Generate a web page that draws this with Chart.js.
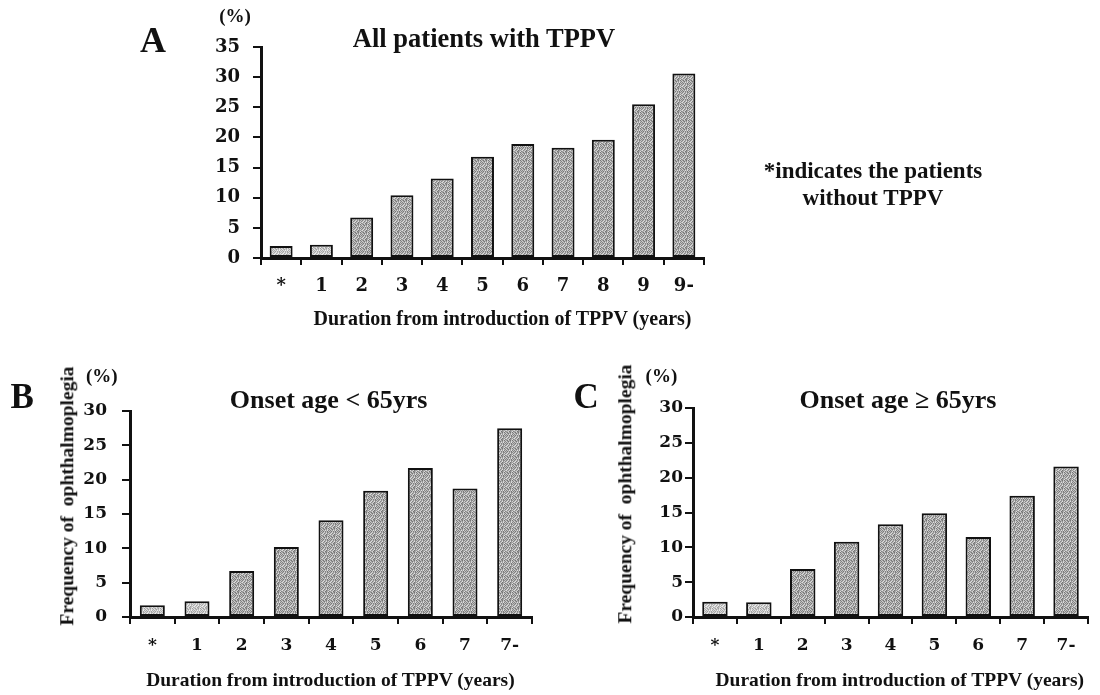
<!DOCTYPE html>
<html>
<head>
<meta charset="utf-8">
<script src="https://cdn.jsdelivr.net/npm/chart.js@4.4.1/dist/chart.umd.min.js"></script>
<style>
  html, body { margin: 0; padding: 0; background: #fff; }
  #page { position: relative; width: 1100px; height: 695px; overflow: hidden; background: #fff;
          font-family: "Liberation Serif", "Times New Roman", serif; font-weight: bold; color: #111; }
  #page canvas { position: absolute; left: 0; top: 0; }
  .t { position: absolute; white-space: pre; line-height: 1; }
</style>
</head>
<body>
<div id="page">
  <canvas id="chartA" width="1100" height="695"></canvas>
  <canvas id="chartB" width="1100" height="695"></canvas>
  <canvas id="chartC" width="1100" height="695"></canvas>
</div>
<script>
// Frequency of ophthalmoplegia (%) by duration since introduction of TPPV
const labelsA = ['*', '1', '2', '3', '4', '5', '6', '7', '8', '9', '9-'];
const valuesA = [2.0, 2.2, 6.7, 10.4, 13.2, 16.8, 18.9, 18.3, 19.6, 25.5, 30.6];

const labelsBC = ['*', '1', '2', '3', '4', '5', '6', '7', '7-'];
const valuesB = [1.7, 2.3, 6.7, 10.2, 14.1, 18.4, 21.7, 18.7, 27.5];   // onset age < 65
const valuesC = [2.2, 2.1, 6.9, 10.8, 13.3, 14.9, 11.5, 17.4, 21.6];   // onset age >= 65

const yTicksA = { max: 35, step: 5 };
const yTicksBC = { max: 30, step: 5 };

// speckled grey fill, like a halftone print
function speckle(mean, spread) {
  const n = 8;
  const c = document.createElement('canvas');
  c.width = n; c.height = n;
  const g = c.getContext('2d');
  for (let j = 0; j < n; j++) {
    for (let i = 0; i < n; i++) {
      const k = (i * 53 + j * 97 + i * j * 31 + (i ^ j) * 7) % 9 - 4;
      const v = Math.max(0, Math.min(255, Math.round(mean + k * spread)));
      g.fillStyle = 'rgb(' + v + ',' + v + ',' + v + ')';
      g.fillRect(i, j, 1, 1);
    }
  }
  return g.createPattern(c, 'repeat');
}
const midFill = speckle(170, 13);
const lightFill = speckle(200, 10);

function buildChart(id, labels, values, yInfo, area, opts) {
  const Y_W = 80, X_H = 60;
  const tickFont = { family: "'DejaVu Serif'", weight: 'bold', size: opts.tickSize };
  return new Chart(document.getElementById(id), {
    type: 'bar',
    data: {
      labels: labels,
      datasets: [{
        data: values,
        backgroundColor: (ctx) => ctx.dataIndex < 2 ? lightFill : midFill,
        borderColor: '#111',
        borderWidth: 2,
        borderSkipped: false,
        categoryPercentage: 1,
        barPercentage: opts.barPct
      }]
    },
    options: {
      responsive: false,
      animation: false,
      events: [],
      layout: {
        padding: {
          left: area.left - Y_W,
          right: 1100 - area.right,
          top: area.top,
          bottom: 695 - area.bottom - X_H
        }
      },
      plugins: { legend: { display: false }, tooltip: { enabled: false }, title: { display: false } },
      scales: {
        x: {
          type: 'category',
          offset: true,
          grid: { offset: true, drawOnChartArea: false, drawTicks: true, tickLength: 7, lineWidth: 2, color: '#111' },
          border: { display: true, color: '#111', width: 3 },
          ticks: { font: tickFont, color: '#111', padding: opts.xPad, maxRotation: 0, autoSkip: false },
          afterFit: (s) => { s.height = X_H; }
        },
        y: {
          min: 0,
          max: yInfo.max,
          grid: { drawOnChartArea: false, drawTicks: true, tickLength: 8, lineWidth: 2, color: '#111' },
          border: { display: true, color: '#111', width: 3 },
          ticks: { stepSize: yInfo.step, font: tickFont, color: '#111', padding: opts.yPad },
          afterFit: (s) => { s.width = Y_W; }
        }
      }
    }
  });
}

buildChart('chartA', labelsA, valuesA, yTicksA, { left: 261, right: 704, top: 47, bottom: 258 },
           { tickSize: 18, yPad: 13, xPad: 11, barPct: 0.57 });
buildChart('chartB', labelsBC, valuesB, yTicksBC, { left: 130, right: 532, top: 411, bottom: 617 },
           { tickSize: 17, yPad: 15, xPad: 11, barPct: 0.56 });
buildChart('chartC', labelsBC, valuesC, yTicksBC, { left: 693, right: 1088, top: 408, bottom: 617 },
           { tickSize: 17, yPad: 2, xPad: 11, barPct: 0.58 });

// Titles, panel letters and notes as page text
const page = document.getElementById('page');
const BASE = 0.8375; // baseline offset within a line-height:1 box
function put(text, x, baseline, size, align) {
  const d = document.createElement('div');
  d.className = 't';
  d.textContent = text;
  d.style.fontSize = size + 'px';
  d.style.top = (baseline - BASE * size) + 'px';
  d.style.left = x + 'px';
  if (align === 'center') d.style.transform = 'translateX(-50%)';
  page.appendChild(d);
  return d;
}
function putVertical(text, cx, cy, size) {
  const d = document.createElement('div');
  d.className = 't';
  d.textContent = text;
  d.style.fontSize = size + 'px';
  d.style.left = cx + 'px';
  d.style.top = cy + 'px';
  d.style.transform = 'translate(-50%, -50%) rotate(-90deg)';
  page.appendChild(d);
}

// panel A
put('A', 140, 52.3, 36, 'left');
put('(%)', 235, 21.8, 19, 'center');
put('All patients with TPPV', 484, 46.7, 26.5, 'center');
put('*indicates the patients', 873, 178.3, 23, 'center');
put('without TPPV', 873, 205.7, 23, 'center');
put('Duration from introduction of TPPV (years)', 502.5, 325, 20, 'center');

// panel B
put('B', 10.5, 408, 35, 'left');
put('(%)', 101.8, 382.3, 19, 'center');
put('Onset age < 65yrs', 328.6, 408.3, 26, 'center');
putVertical('Frequency of  ophthalmoplegia', 66.7, 495.5, 19.5);
put('Duration from introduction of TPPV (years)', 330.4, 686.7, 19.5, 'center');

// panel C
put('C', 573.5, 408, 35, 'left');
put('(%)', 661.4, 382.3, 19, 'center');
put('Onset age \u2265 65yrs', 898, 408.3, 26, 'center');
putVertical('Frequency of  ophthalmoplegia', 624.6, 494, 19.5);
put('Duration from introduction of TPPV (years)', 899.8, 686.7, 19.5, 'center');
</script>
</body>
</html>
